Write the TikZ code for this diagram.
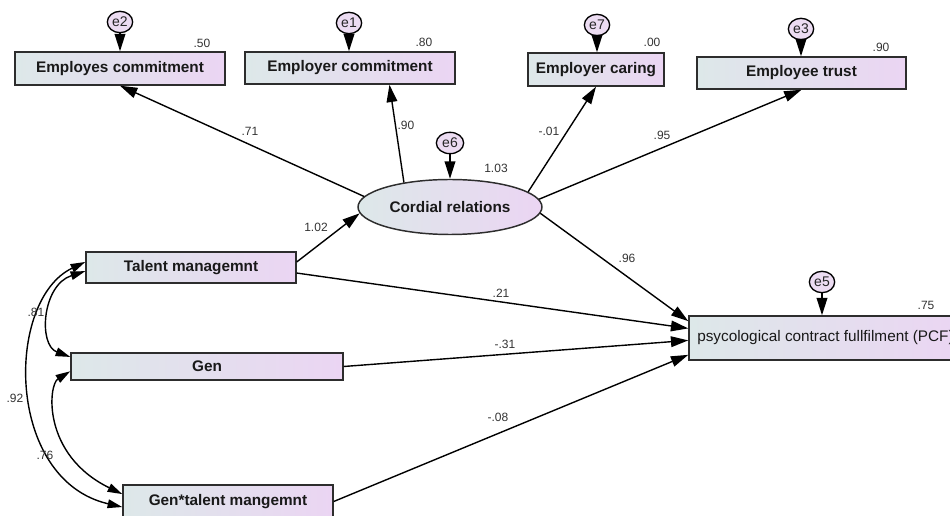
\documentclass[tikz,border=0pt]{standalone}
\usepackage{fontspec}
\setmainfont{Liberation Sans}
\usetikzlibrary{arrows.meta, positioning, shapes.geometric}
\definecolor{boxleft}{RGB}{221,232,233}
\definecolor{boxright}{RGB}{235,213,243}
\definecolor{errfill}{RGB}{236,220,242}
\definecolor{framegray}{RGB}{45,45,45}
\tikzset{
    obsbox/.style={draw=framegray, line width=1.1pt, rectangle, left color=boxleft, right color=boxright,
        inner sep=0pt, text=black!90, font=\fontsize{11.5}{13}\selectfont\bfseries},
    latent/.style={draw=framegray, line width=1.1pt, ellipse, left color=boxleft, right color=boxright,
        inner sep=0pt, text=black!90, font=\fontsize{11.5}{13}\selectfont\bfseries},
    errnode/.style={draw=black, line width=1pt, ellipse, fill=errfill, minimum width=19pt,
        minimum height=16pt, inner sep=0pt, text=black!85, font=\fontsize{10.5}{12}\selectfont},
    estlbl/.style={inner sep=0pt, text=black!80, font=\fontsize{9}{10}\selectfont},
    regarrow/.style={-{Triangle[length=13pt, width=8pt]}, line width=1.05pt},
    corarrow/.style={{Triangle[length=11pt, width=6.5pt]}-{Triangle[length=11pt, width=6.5pt]}, line width=1.05pt}
}
\begin{document}
\begin{tikzpicture}[x=0.75pt, y=-0.75pt]
    \useasboundingbox (0,0) rectangle (950,516);
    % Observed variables
    \node[obsbox, minimum width=157.5pt, minimum height=24.75pt] (ec) at (120,68.5) {Employes commitment};
    \node[obsbox, minimum width=157.5pt, minimum height=24pt] (erc) at (350,68) {Employer commitment};
    \node[obsbox, minimum width=102pt, minimum height=24.75pt] (ecar) at (596,69.5) {Employer caring};
    \node[obsbox, minimum width=156.75pt, minimum height=24pt] (et) at (801.5,73) {Employee trust};
    \node[obsbox, minimum width=157.5pt, minimum height=23.25pt] (tm) at (191,267.5) {Talent managemnt};
    \node[obsbox, minimum width=204pt, minimum height=20.25pt] (gen) at (207,366.5) {Gen};
    \node[obsbox, minimum width=157.5pt, minimum height=24.75pt] (gt) at (228,501.5) {Gen*talent mangemnt};
    \node[obsbox, minimum width=204.75pt, minimum height=33pt, font=\fontsize{11.5}{13}\selectfont] (pcf) at (825.5,338) {psycological contract fullfilment (PCF)};

    % Latent variable
    \node[latent, minimum width=138pt, minimum height=41.25pt] (cr) at (450,207) {Cordial relations};

    % Error terms
    \node[errnode] (e2) at (120,22) {e2};
    \node[errnode] (e1) at (349,23) {e1};
    \node[errnode] (e7) at (597,25) {e7};
    \node[errnode] (e3) at (801,29) {e3};
    \node[errnode, minimum width=20.5pt] (e6) at (450,143) {e6};
    \node[errnode] (e5) at (822,282) {e5};

    \draw[regarrow] (e2) -- (e2 |- ec.north);
    \draw[regarrow] (e1) -- (e1 |- erc.north);
    \draw[regarrow] (e7) -- (e7 |- ecar.north);
    \draw[regarrow] (e3) -- (e3 |- et.north);
    \draw[regarrow] (e6) -- (cr.north);
    \draw[regarrow] (e5) -- (e5 |- pcf.north);

    % Paths
    \draw[regarrow] (cr.173) -- (ec.south);
    \draw[regarrow] (cr.152) -- (erc.-23);
    \draw[regarrow] (cr.11) -- (ecar.south);
    \draw[regarrow] (cr.5) -- (et.south);
    \draw[regarrow] (tm.3) -- (cr.184);
    \draw[regarrow] (cr.-4) -- (pcf.173);
    \draw[regarrow] (tm.-3) -- (pcf.176);
    \draw[regarrow] (gen.east) -- (pcf.181);
    \draw[regarrow] (gt.east) -- (pcf.187);

    % Covariances
    \draw[corarrow] (tm.182) .. controls (42,285) and (38,345) .. (gen.176);
    \draw[corarrow] (gen.182) .. controls (48,385) and (42,455) .. (gt.176);
    \draw[corarrow] (tm.177) .. controls (5,300) and (5,480) .. (gt.183);

    % Estimates
    \node[estlbl] (r2ec) at (202,43) {.50};
    \node[estlbl] (r2erc) at (424,42) {.80};
    \node[estlbl] (r2ecar) at (652,42) {.00};
    \node[estlbl] (r2et) at (881,47) {.90};
    \node[estlbl] (r2cr) at (496,168) {1.03};
    \node[estlbl] (r2pcf) at (926,305) {.75};
    \node[estlbl] (w1) at (250,131) {.71};
    \node[estlbl] (w2) at (406,125) {.90};
    \node[estlbl] (w3) at (549,131) {-.01};
    \node[estlbl] (w4) at (662,135) {.95};
    \node[estlbl] (w5) at (316,227) {1.02};
    \node[estlbl] (w6) at (627,258) {.96};
    \node[estlbl] (w7) at (501,293) {.21};
    \node[estlbl] (w8) at (505,344) {-.31};
    \node[estlbl] (w9) at (498,417) {-.08};
    \node[estlbl] (c1) at (36,312) {.81};
    \node[estlbl] (c2) at (15,398) {.92};
    \node[estlbl] (c3) at (45,455) {.76};
\end{tikzpicture}
\end{document}
